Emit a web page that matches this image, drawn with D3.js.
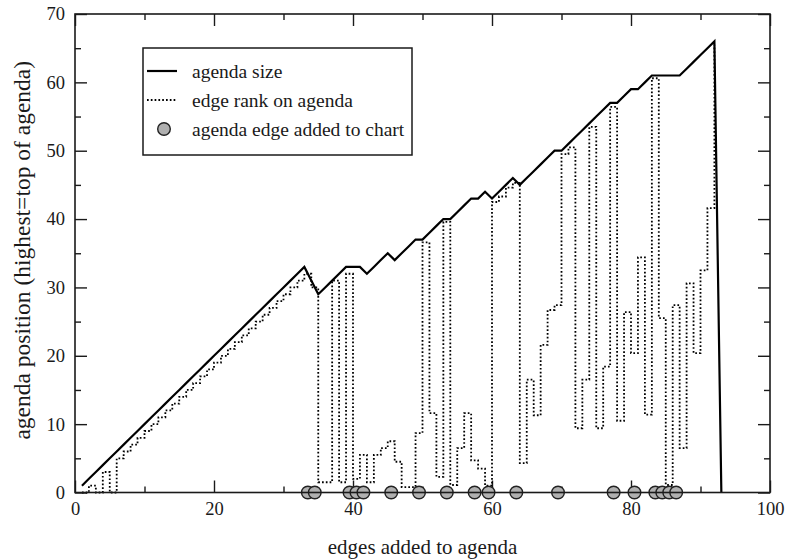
<!DOCTYPE html>
<html>
<head>
<meta charset="utf-8">
<script src="https://cdn.jsdelivr.net/npm/d3@7"></script>
<style>
  html, body { margin: 0; padding: 0; background: #fff; }
  svg { display: block; font-family: "Liberation Serif", "Times New Roman", serif; }
</style>
</head>
<body>
<svg id="chart" width="788" height="559"></svg>
<script>
// Agenda size after each edge is added (edges 1 .. 93).
const agendaSize = [
  1, 2, 3, 4, 5, 6, 7, 8, 9, 10,
  11, 12, 13, 14, 15, 16, 17, 18, 19, 20,
  21, 22, 23, 24, 25, 26, 27, 28, 29, 30,
  31, 32, 33, 31, 29, 30, 31, 32, 33, 33,
  33, 32, 33, 34, 35, 34, 35, 36, 37, 37,
  38, 39, 40, 40, 41, 42, 43, 43, 44, 43,
  44, 45, 46, 45, 46, 47, 48, 49, 50, 50,
  51, 52, 53, 54, 55, 56, 57, 57, 58, 59,
  59, 60, 61, 61, 61, 61, 61, 62, 63, 64,
  65, 66, 0
];

// Agenda position of the edge taken at each step (edges 1 .. 92).
const edgeRank = [
  0, 1, 0, 3, 0, 5, 6, 7, 8, 9,
  10, 11, 12, 13, 14, 15, 16, 17, 18, 19,
  20, 21, 22, 23, 24, 25, 26, 27, 28, 29,
  30, 31, 32, 30, 1.5, 1.5, 31, 1.5, 32, 2,
  5.5, 1.5, 5.5, 6.5, 7.5, 4.5, 0.8, 0.8, 8.7, 36.6,
  11.6, 2.3, 39.6, 1.1, 6.5, 11.6, 4.7, 3.5, 1, 42.5,
  43.3, 44.6, 45.3, 4.3, 16.5, 11.3, 21.6, 26.7, 27.4, 49.5,
  50.5, 9.4, 16.5, 53.5, 9.4, 18.4, 56.4, 10.5, 26.4, 20.4,
  34.4, 11.4, 60.6, 25.5, 1.1, 27.4, 6.5, 30.6, 20.4, 32.5,
  41.6, 65.5
];

// Steps at which an agenda edge was moved into the chart.
const chartAdds = [33.5, 34.5, 39.5, 40.5, 41.5, 45.5, 49.5, 53.5, 57.5, 59.5,
                   63.5, 69.5, 77.5, 80.5, 83.5, 84.5, 85.5, 86.5];

const xMajor = [0, 20, 40, 60, 80, 100];
const xMinor = [10, 30, 50, 70, 90];
const yMajor = [0, 10, 20, 30, 40, 50, 60, 70];
const yMinor = [5, 15, 25, 35, 45, 55, 65];

const legendLabels = ["agenda size", "edge rank on agenda", "agenda edge added to chart"];
const xTitle = "edges added to agenda";
const yTitle = "agenda position (highest=top of agenda)";

const plot = { left: 75, right: 770, top: 14, bottom: 492.5 };
const ink = "#1a1a1a";
const dotStyle = { width: 1.8, dash: "1.7,2.1" };

const svg = d3.select("#chart");

const x = d3.scaleLinear().domain([0, 100]).range([plot.left, plot.right]);
const y = d3.scaleLinear().domain([0, 70]).range([plot.bottom, plot.top]);

// ---- axes: ticks point inward on all four sides ----
function styleAxis(g) {
  g.select(".domain").remove();
  g.selectAll(".tick line").attr("stroke", ink).attr("stroke-width", 1.4);
  g.selectAll(".tick text").attr("fill", ink).attr("font-size", 18.5)
    .attr("font-family", "Liberation Serif, Times New Roman, serif");
}

const axes = svg.append("g");
// bottom
axes.append("g").attr("transform", `translate(0,${plot.bottom})`)
  .call(d3.axisBottom(x).tickValues(xMajor).tickSize(-12).tickPadding(9).tickFormat(d3.format("d")))
  .call(styleAxis);
axes.append("g").attr("transform", `translate(0,${plot.bottom})`)
  .call(d3.axisBottom(x).tickValues(xMinor).tickSize(-6).tickFormat(""))
  .call(styleAxis);
// top
axes.append("g").attr("transform", `translate(0,${plot.top})`)
  .call(d3.axisTop(x).tickValues(xMajor).tickSize(-12).tickFormat(""))
  .call(styleAxis);
axes.append("g").attr("transform", `translate(0,${plot.top})`)
  .call(d3.axisTop(x).tickValues(xMinor).tickSize(-6).tickFormat(""))
  .call(styleAxis);
// left
axes.append("g").attr("transform", `translate(${plot.left},0)`)
  .call(d3.axisLeft(y).tickValues(yMajor).tickSize(-12).tickPadding(10).tickFormat(d3.format("d")))
  .call(styleAxis);
axes.append("g").attr("transform", `translate(${plot.left},0)`)
  .call(d3.axisLeft(y).tickValues(yMinor).tickSize(-6).tickFormat(""))
  .call(styleAxis);
// right
axes.append("g").attr("transform", `translate(${plot.right},0)`)
  .call(d3.axisRight(y).tickValues(yMajor).tickSize(-12).tickFormat(""))
  .call(styleAxis);
axes.append("g").attr("transform", `translate(${plot.right},0)`)
  .call(d3.axisRight(y).tickValues(yMinor).tickSize(-6).tickFormat(""))
  .call(styleAxis);

// ---- data ----
const rankPts = edgeRank.map((v, i) => [i + 1, v]);
const sizePts = agendaSize.map((v, i) => [i + 1, v]);

const stepLine = d3.line().curve(d3.curveStepAfter)
  .x(d => x(d[0])).y(d => y(d[1]));
const straightLine = d3.line().x(d => x(d[0])).y(d => y(d[1]));

svg.append("path")
  .attr("d", stepLine(rankPts))
  .attr("fill", "none")
  .attr("stroke", "#000")
  .attr("stroke-width", dotStyle.width)
  .attr("stroke-dasharray", dotStyle.dash);

svg.append("path")
  .attr("d", straightLine(sizePts))
  .attr("fill", "none")
  .attr("stroke", "#000")
  .attr("stroke-width", 2.2)
  .attr("stroke-linejoin", "miter");

svg.append("g").selectAll("circle")
  .data(chartAdds)
  .join("circle")
  .attr("cx", d => x(d))
  .attr("cy", y(0))
  .attr("r", 6.3)
  .attr("fill", "#b0b0b0")
  .attr("stroke", "#222")
  .attr("stroke-width", 1.4);

// plot frame
svg.append("rect")
  .attr("x", plot.left).attr("y", plot.top)
  .attr("width", plot.right - plot.left).attr("height", plot.bottom - plot.top)
  .attr("fill", "none").attr("stroke", ink).attr("stroke-width", 1.6);

// ---- legend ----
const lg = svg.append("g");
lg.append("rect")
  .attr("x", 143).attr("y", 48).attr("width", 269).attr("height", 107)
  .attr("fill", "#fff").attr("stroke", ink).attr("stroke-width", 1.5);
const rowY = [71, 100, 129];
lg.append("line").attr("x1", 147).attr("x2", 177).attr("y1", rowY[0]).attr("y2", rowY[0])
  .attr("stroke", "#000").attr("stroke-width", 2.2);
lg.append("line").attr("x1", 147).attr("x2", 177).attr("y1", rowY[1]).attr("y2", rowY[1])
  .attr("stroke", "#000").attr("stroke-width", dotStyle.width).attr("stroke-dasharray", dotStyle.dash);
lg.append("circle").attr("cx", 164).attr("cy", rowY[2]).attr("r", 6.3)
  .attr("fill", "#b0b0b0").attr("stroke", "#222").attr("stroke-width", 1.4);
lg.selectAll("text.lab").data(legendLabels).join("text")
  .attr("class", "lab")
  .attr("x", 192).attr("y", (d, i) => rowY[i])
  .attr("dy", "0.35em")
  .attr("font-size", 19.5)
  .attr("fill", ink)
  .text(d => d);

// ---- axis titles ----
svg.append("text")
  .attr("x", (plot.left + plot.right) / 2).attr("y", 547)
  .attr("text-anchor", "middle").attr("dy", "0.35em")
  .attr("font-size", 21).attr("fill", ink)
  .text(xTitle);
svg.append("text")
  .attr("transform", `translate(22,${(plot.top + plot.bottom) / 2 - 3}) rotate(-90)`)
  .attr("text-anchor", "middle").attr("dy", "0.35em")
  .attr("font-size", 23.5).attr("fill", ink)
  .text(yTitle);
</script>
</body>
</html>
